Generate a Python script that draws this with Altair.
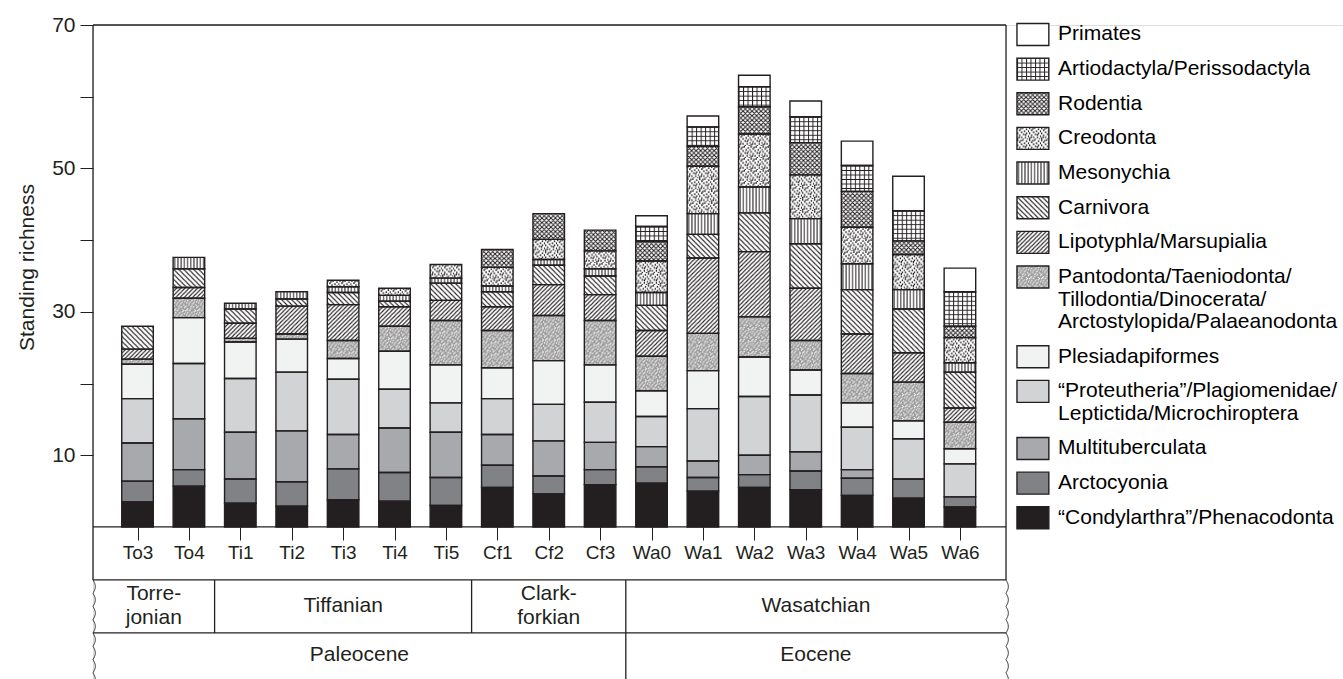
import base64

import altair as alt
import numpy as np
import pandas as pd

# ---------------------------------------------------------------- data
PERIODS = ["To3", "To4", "Ti1", "Ti2", "Ti3", "Ti4", "Ti5", "Cf1", "Cf2", "Cf3",
           "Wa0", "Wa1", "Wa2", "Wa3", "Wa4", "Wa5", "Wa6"]

# taxa from the bottom of each stack to the top; each entry is the label's lines
GROUP_LINES = [
    ["\u201cCondylarthra\u201d/Phenacodonta"],
    ["Arctocyonia"],
    ["Multituberculata"],
    ["\u201cProteutheria\u201d/Plagiomenidae/", "Leptictida/Microchiroptera"],
    ["Plesiadapiformes"],
    ["Pantodonta/Taeniodonta/", "Tillodontia/Dinocerata/", "Arctostylopida/Palaeanodonta"],
    ["Lipotyphla/Marsupialia"],
    ["Carnivora"],
    ["Mesonychia"],
    ["Creodonta"],
    ["Rodentia"],
    ["Artiodactyla/Perissodactyla"],
    ["Primates"],
]
GROUPS = ["".join(lines) for lines in GROUP_LINES]

condylarthra = [3.5, 5.7, 3.3, 2.9, 3.8, 3.6, 3.0, 5.5, 4.6, 5.9, 6.1, 5.0, 5.5, 5.2, 4.4, 4.0, 2.8]
arctocyonia = [2.9, 2.3, 3.4, 3.4, 4.3, 4.0, 3.9, 3.1, 2.5, 2.1, 2.3, 1.9, 1.8, 2.6, 2.4, 2.7, 1.4]
multituberculata = [5.3, 7.1, 6.5, 7.1, 4.8, 6.2, 6.3, 4.3, 4.9, 3.8, 2.8, 2.3, 2.7, 2.7, 1.2, 0, 0]
proteutheria = [6.2, 7.7, 7.5, 8.2, 7.7, 5.4, 4.1, 5.0, 5.1, 5.6, 4.2, 7.3, 8.2, 7.9, 5.9, 5.6, 4.6]
plesiadapiformes = [4.8, 6.4, 5.1, 4.6, 2.9, 5.3, 5.3, 4.3, 6.1, 5.2, 3.6, 5.3, 5.5, 3.5, 3.4, 2.5, 2.1]
pantodonta = [0.7, 2.7, 0.5, 0.7, 2.5, 3.5, 6.2, 5.2, 6.3, 6.2, 4.8, 5.2, 5.6, 4.1, 4.1, 5.4, 3.7]
lipotyphla = [1.4, 1.5, 2.1, 3.9, 5.0, 2.7, 2.8, 3.3, 4.3, 3.6, 3.6, 10.5, 9.1, 7.3, 5.5, 4.1, 2.0]
carnivora = [3.2, 2.6, 2.0, 1.0, 1.7, 0.8, 2.4, 2.1, 2.7, 2.6, 3.5, 3.3, 5.4, 6.2, 6.2, 6.1, 5.0]
mesonychia = [0, 1.6, 0.8, 1.0, 0.8, 0.8, 0.7, 0.8, 0.8, 1.0, 1.8, 2.9, 3.6, 3.5, 3.6, 2.7, 1.3]
creodonta = [0, 0, 0, 0, 0.9, 1.0, 1.9, 2.6, 2.8, 2.5, 4.4, 6.6, 7.4, 6.1, 5.1, 4.9, 3.5]
rodentia = [0, 0, 0, 0, 0, 0, 0, 2.5, 3.6, 2.9, 2.7, 2.8, 3.8, 4.5, 5.0, 1.9, 1.6]
artiodactyla = [0, 0, 0, 0, 0, 0, 0, 0, 0, 0, 2.1, 2.7, 2.8, 3.6, 3.6, 4.2, 4.8]
primates = [0, 0, 0, 0, 0, 0, 0, 0, 0, 0, 1.5, 1.5, 1.6, 2.2, 3.4, 4.8, 3.3]

VALUES = [condylarthra, arctocyonia, multituberculata, proteutheria, plesiadapiformes,
          pantodonta, lipotyphla, carnivora, mesonychia, creodonta, rodentia,
          artiodactyla, primates]

STAGE_LINES = [["Torre-", "jonian"], ["Tiffanian"], ["Clark-", "forkian"], ["Wasatchian"]]
STAGE_SPANS = [2, 5, 3, 7]
EPOCHS = ["Paleocene", "Eocene"]
EPOCH_SPANS = [10, 7]

Y_TICKS = [10, 20, 30, 40, 50, 60, 70]

# ---------------------------------------------------------------- styling
INK = "#231f20"
FONT = "Liberation Sans"

FILLS = ["#231f20", "#808285", "#a7a9ac", "#d1d3d4", "#f1f2f2", "#a3a3a3",
         "#ffffff", "#ffffff", "#ffffff", "#ffffff", "#ffffff", "#ffffff", "#ffffff"]


def pattern_uri(w, h, body, bg="#ffffff"):
    svg = (
        '<svg xmlns="http://www.w3.org/2000/svg" width="100%" height="100%">'
        f'<defs><pattern id="p" patternUnits="userSpaceOnUse" width="{w}" height="{h}">'
        f'<rect width="{w}" height="{h}" fill="{bg}"/>{body}</pattern></defs>'
        '<rect width="100%" height="100%" fill="url(#p)"/></svg>'
    )
    return "data:image/svg+xml;base64," + base64.b64encode(svg.encode()).decode()


def specks(points, color, w=1.0, h=1.0):
    return "".join(
        f'<rect x="{x}" y="{y}" width="{w}" height="{h}" fill="{color}"/>' for x, y in points
    )


# fleck layouts for the two stipple textures (12 x 12 tiles)
stipple_white = [(0, 0), (4, 0), (9, 1), (2, 2), (6, 2), (11, 3), (1, 4), (4, 4), (8, 4),
                 (10, 6), (3, 6), (6, 7), (0, 8), (8, 8), (11, 9), (2, 10), (5, 10),
                 (9, 11), (7, 5), (1, 11), (10, 0), (5, 8)]
stipple_light = [(2, 0), (7, 1), (0, 2), (5, 3), (9, 3), (3, 5), (11, 7), (7, 9), (4, 11), (1, 7)]
dots_black = [(0, 0), (5, 0), (9, 1), (2, 2), (7, 3), (11, 3), (4, 4), (0, 5), (9, 5),
              (6, 6), (2, 7), (11, 8), (4, 9), (8, 9), (0, 10), (6, 11), (10, 11), (3, 0.5),
              (8, 6.5), (1.5, 9)]

PATTERNS = {
    GROUPS[5]: pattern_uri(12, 12, specks(stipple_white, "#ffffff", 1.2, 1.2) +
                           specks(stipple_light, "#d2d2d2", 1.2, 1.2), bg="#9c9c9c"),
    GROUPS[6]: pattern_uri(4.2, 4.2, f'<path d="M0,4.2 L4.2,0 M-1,1 L1,-1 M3.2,5.2 L5.2,3.2" '
                                     f'stroke="{INK}" stroke-width="1.05"/>'),
    GROUPS[7]: pattern_uri(5, 5, f'<path d="M0,0 L5,5 M-1,4 L1,6 M4,-1 L6,1" '
                                 f'stroke="{INK}" stroke-width="1.05"/>'),
    GROUPS[8]: pattern_uri(3.2, 4, f'<path d="M1.6,0 V4" stroke="{INK}" stroke-width="1"/>'),
    GROUPS[9]: pattern_uri(12, 12, specks(dots_black, INK, 1.3, 1.8)),
    GROUPS[10]: pattern_uri(4.5, 4.5, f'<path d="M0,0 L4.5,4.5 M0,4.5 L4.5,0 M-1,1 L1,-1 M3.5,5.5 L5.5,3.5 '
                                      f'M-1,3.5 L1,5.5 M3.5,-1 L5.5,1" stroke="{INK}" stroke-width="1"/>'),
    GROUPS[11]: pattern_uri(4.5, 4.5, f'<path d="M0,0.5 H4.5 M0.5,0 V4.5" stroke="{INK}" stroke-width="1"/>'),
}
pattern_df = pd.DataFrame({"group": list(PATTERNS.keys()), "url": list(PATTERNS.values())})

# ---------------------------------------------------------------- layout (in scale units)
X_LEFT, X_RIGHT = -0.866, 16.897          # plot frame, in period-index units
HALF = 0.307                              # half bar width
Y_ROW1, Y_ROW2, Y_BOTTOM = -7.39, -14.78, -21.2
LEG_X0, LEG_X1, LEG_TEXT_X = 17.11, 17.73, 17.91
LEG_TOP, LEG_STEP, LEG_LINE, LEG_HALF = 68.68, 4.832, 3.138, 1.534

XS = alt.Scale(domain=[X_LEFT, 23.453], nice=False, zero=False)
YS = alt.Scale(domain=[Y_BOTTOM, 70], nice=False, zero=False)

label_expr = "[" + ",".join(f"'{p}'" for p in PERIODS) + "][datum.value]"
X_AXIS = alt.Axis(values=list(range(len(PERIODS))), labelExpr=label_expr, offset=-152,
                  tickSize=13, tickColor=INK, tickWidth=1, labelPadding=3, labelFontSize=19,
                  labelFont=FONT, labelColor=INK, labelAngle=0, labelFlush=False,
                  labelOverlap=False, domain=False, grid=False, title=None)
Y_AXIS = alt.Axis(values=Y_TICKS, labelExpr="datum.value % 20 == 10 ? datum.label : ''",
                  tickSize=13, tickColor=INK, tickWidth=1, labelPadding=5, labelFontSize=21,
                  labelFont=FONT, labelColor=INK, labelOverlap=False, domain=False, grid=False,
                  title="Standing richness", titleFont=FONT, titleFontSize=21,
                  titleFontWeight="normal", titleColor=INK, titleAngle=270,
                  titleX=-60, titleY=242, titleAlign="center", titleBaseline="alphabetic")


def X(field):
    return alt.X(field, type="quantitative", scale=XS, axis=X_AXIS)


def Y(field):
    return alt.Y(field, type="quantitative", scale=YS, axis=Y_AXIS)


# ---------------------------------------------------------------- stacked bars
rows = []
for gi, (g, vals) in enumerate(zip(GROUPS, VALUES)):
    for pi, v in enumerate(vals):
        rows.append({"period": PERIODS[pi], "idx": pi, "group": g, "order": gi, "value": v})
bars_df = pd.DataFrame(rows)

bars = (
    alt.Chart(bars_df)
    .transform_filter("datum.value > 0")
    .transform_stack(stack="value", groupby=["idx"], as_=["y0", "y1"],
                     sort=[alt.SortField("order", order="ascending")])
    .transform_calculate(x0=f"datum.idx - {HALF}", x1=f"datum.idx + {HALF}")
)

color = alt.Color("group:N", scale=alt.Scale(domain=GROUPS, range=FILLS), legend=None)

bar_fill = bars.mark_rect(strokeWidth=0).encode(
    x=X("x0"), x2="x1:Q", y=Y("y0"), y2="y1:Q", color=color)

bar_pattern = (
    bars.transform_lookup(lookup="group", from_=alt.LookupData(pattern_df, key="group", fields=["url"]))
    .transform_filter("isValid(datum.url)")
    .mark_image(aspect=False)
    .encode(x=X("x0"), x2="x1:Q", y=Y("y0"), y2="y1:Q", url="url:N")
)

bar_outline = bars.mark_rect(fillOpacity=0, stroke=INK, strokeWidth=1.4).encode(
    x=X("x0"), x2="x1:Q", y=Y("y0"), y2="y1:Q")

# ---------------------------------------------------------------- frame and time table
bounds = np.cumsum(STAGE_SPANS)[:-1] - 0.5
epoch_bounds = np.cumsum(EPOCH_SPANS)[:-1] - 0.5
frame = [
    (X_LEFT, 70, X_RIGHT, 70),
    (X_LEFT, 0, X_RIGHT, 0),
    (X_LEFT, Y_ROW1, X_LEFT, 70),
    (X_RIGHT, Y_ROW1, X_RIGHT, 70),
    (X_LEFT, Y_ROW1, X_RIGHT, Y_ROW1),
    (X_LEFT, Y_ROW2, X_RIGHT, Y_ROW2),
]
frame += [(b, Y_ROW2, b, Y_ROW1) for b in bounds]
frame += [(b, Y_BOTTOM, b, Y_ROW2) for b in epoch_bounds]
frame_df = pd.DataFrame(frame, columns=["xa", "ya", "xb", "yb"])
frame_rules = alt.Chart(frame_df).mark_rule(color=INK, strokeWidth=1.3).encode(
    x=X("xa"), x2="xb:Q", y=Y("ya"), y2="yb:Q")

# wavy break lines at both ends of the stage and epoch rows
t = np.linspace(0, 1, 240)
wy = Y_ROW1 + (Y_BOTTOM - Y_ROW1) * t
wave = 0.045 * np.abs(np.sin(np.pi * (Y_ROW1 - wy) / 1.85))
wave_df = pd.concat([
    pd.DataFrame({"side": "left", "t": t, "x": X_LEFT + wave, "y": wy}),
    pd.DataFrame({"side": "right", "t": t, "x": X_RIGHT + wave, "y": wy}),
])
waves = alt.Chart(wave_df).mark_line(color=INK, strokeWidth=1).encode(
    x=X("x"), y=Y("y"), detail="side:N", order="t:Q")

edges = [X_LEFT] + list(bounds) + [X_RIGHT]
stage_rows = []
for si, lines in enumerate(STAGE_LINES):
    xc = (edges[si] + edges[si + 1]) / 2
    mid = (Y_ROW1 + Y_ROW2) / 2
    for li, line in enumerate(lines):
        offset = (li - (len(lines) - 1) / 2) * 3.35
        stage_rows.append({"x": xc, "y": mid - offset, "text": line})
e_edges = [X_LEFT] + list(epoch_bounds) + [X_RIGHT]
for ei, name in enumerate(EPOCHS):
    stage_rows.append({"x": (e_edges[ei] + e_edges[ei + 1]) / 2,
                       "y": (Y_ROW2 + Y_BOTTOM) / 2 + 0.2, "text": name})
table_text = alt.Chart(pd.DataFrame(stage_rows)).mark_text(
    font=FONT, fontSize=21, color=INK, align="center", baseline="middle"
).encode(x=X("x"), y=Y("y"), text="text:N")

# ---------------------------------------------------------------- legend
leg_rows, leg_text_rows = [], []
extra = 0
for i, gi in enumerate(reversed(range(len(GROUPS)))):
    yc = LEG_TOP - i * LEG_STEP - extra * LEG_LINE
    leg_rows.append({"group": GROUPS[gi], "x0": LEG_X0, "x1": LEG_X1,
                     "y0": yc - LEG_HALF, "y1": yc + LEG_HALF})
    for li, line in enumerate(GROUP_LINES[gi]):
        leg_text_rows.append({"x": LEG_TEXT_X, "y": yc - li * LEG_LINE, "text": line})
    extra += len(GROUP_LINES[gi]) - 1
leg_df = pd.DataFrame(leg_rows)

legend_base = alt.Chart(leg_df)
legend_fill = legend_base.mark_rect(strokeWidth=0).encode(
    x=X("x0"), x2="x1:Q", y=Y("y0"), y2="y1:Q", color=color)
legend_pattern = (
    legend_base.transform_lookup(lookup="group", from_=alt.LookupData(pattern_df, key="group", fields=["url"]))
    .transform_filter("isValid(datum.url)")
    .mark_image(aspect=False)
    .encode(x=X("x0"), x2="x1:Q", y=Y("y0"), y2="y1:Q", url="url:N")
)
legend_outline = legend_base.mark_rect(fillOpacity=0, stroke=INK, strokeWidth=1.4).encode(
    x=X("x0"), x2="x1:Q", y=Y("y0"), y2="y1:Q")
legend_text = alt.Chart(pd.DataFrame(leg_text_rows)).mark_text(
    font=FONT, fontSize=21, color="#000000", align="left", baseline="middle"
).encode(x=X("x"), y=Y("y"), text="text:N")

# ---------------------------------------------------------------- assemble
chart = (
    alt.layer(bar_fill, bar_pattern, bar_outline, frame_rules, waves, table_text,
              legend_fill, legend_pattern, legend_outline, legend_text)
    .properties(width=1250, height=654, autosize=alt.AutoSizeParams(type="none"),
                padding={"left": 93, "top": 25, "right": 0, "bottom": 0})
    .configure_view(strokeWidth=0)
    .configure(background="#ffffff")
)

chart.save("out.html", embed_options={"renderer": "svg", "actions": False})
